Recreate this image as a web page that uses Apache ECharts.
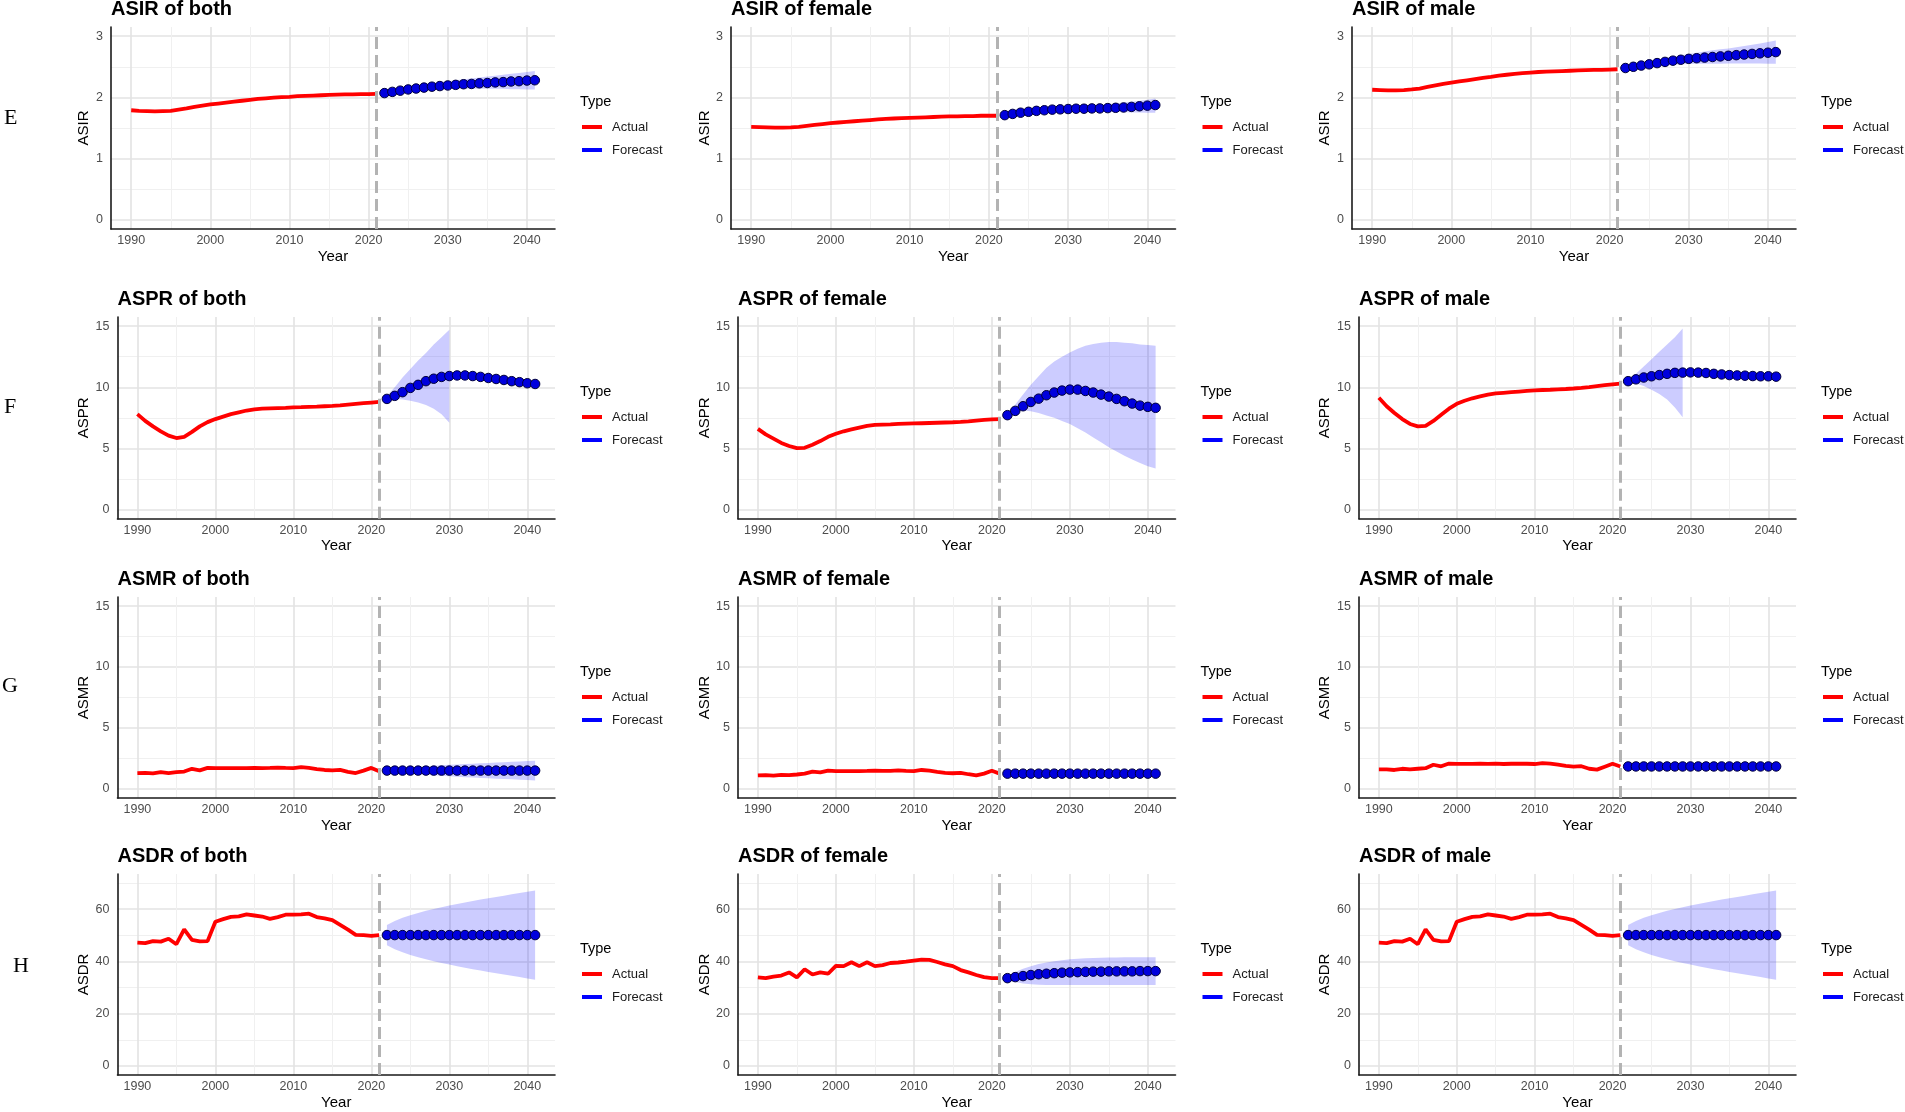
<!DOCTYPE html>
<html>
<head>
<meta charset="utf-8">
<title>ASIR / ASPR / ASMR / ASDR forecasts</title>
<script src="https://cdn.jsdelivr.net/npm/echarts@6/dist/echarts.min.js"></script>
<style>
html, body { margin: 0; padding: 0; background: #fff; }
#main { width: 1905px; height: 1112px; }
</style>
</head>
<body>
<div id="main"></div>
<script>
// years
var years = [1990, 1991, 1992, 1993, 1994, 1995, 1996, 1997, 1998, 1999, 2000, 2001, 2002, 2003, 2004, 2005,
    2006, 2007, 2008, 2009, 2010, 2011, 2012, 2013, 2014, 2015, 2016, 2017, 2018, 2019, 2020, 2021];
var forecastYears = [2022, 2023, 2024, 2025, 2026, 2027, 2028, 2029, 2030, 2031, 2032, 2033, 2034, 2035,
    2036, 2037, 2038, 2039, 2040, 2041];

// tick labels
var xTicks = [1990, 2000, 2010, 2020, 2030, 2040];
var xMinor = [1995, 2005, 2015, 2025, 2035];
var asirTicks = [0, 1, 2, 3];
var asirMinor = [0.5, 1.5, 2.5];
var rateTicks = [0, 5, 10, 15];
var rateMinor = [2.5, 7.5, 12.5];
var asdrTicks = [0, 20, 40, 60];
var asdrMinor = [10, 30, 50, 70];

// ASIR
var asirBothActual = [1.79, 1.78, 1.775, 1.77, 1.775, 1.78, 1.80, 1.82, 1.845, 1.865, 1.885, 1.90, 1.915, 1.93, 1.945, 1.96,
    1.975, 1.985, 1.995, 2.005, 2.01, 2.02, 2.025, 2.03, 2.035, 2.04, 2.045, 2.048, 2.05, 2.052, 2.054, 2.056];
var asirBothForecast = [2.07, 2.09, 2.11, 2.13, 2.145, 2.16, 2.175, 2.185, 2.195, 2.205, 2.215, 2.22, 2.23, 2.235,
    2.245, 2.25, 2.26, 2.265, 2.275, 2.28];
var asirBothUpper = [2.08, 2.11, 2.14, 2.17, 2.19, 2.21, 2.23, 2.25, 2.265, 2.28, 2.295, 2.31, 2.325, 2.34,
    2.355, 2.37, 2.385, 2.40, 2.415, 2.43];
var asirBothLower = [2.06, 2.075, 2.09, 2.10, 2.11, 2.12, 2.125, 2.13, 2.135, 2.14, 2.14, 2.14, 2.14, 2.14,
    2.14, 2.14, 2.135, 2.135, 2.13, 2.13];

var asirFemaleActual = [1.52, 1.515, 1.51, 1.505, 1.505, 1.51, 1.52, 1.535, 1.55, 1.565, 1.58, 1.59, 1.60, 1.61, 1.62, 1.63,
    1.64, 1.65, 1.655, 1.66, 1.665, 1.67, 1.675, 1.68, 1.685, 1.69, 1.69, 1.695, 1.695, 1.70, 1.70, 1.70];
var asirFemaleForecast = [1.71, 1.73, 1.75, 1.765, 1.78, 1.79, 1.80, 1.805, 1.81, 1.815, 1.815, 1.82, 1.82, 1.825,
    1.83, 1.835, 1.845, 1.855, 1.865, 1.875];
var asirFemaleUpper = [1.72, 1.745, 1.77, 1.79, 1.805, 1.82, 1.83, 1.84, 1.85, 1.86, 1.865, 1.875, 1.88, 1.89,
    1.90, 1.915, 1.93, 1.945, 1.96, 1.98];
var asirFemaleLower = [1.70, 1.715, 1.73, 1.74, 1.75, 1.76, 1.765, 1.77, 1.77, 1.77, 1.77, 1.765, 1.765, 1.76,
    1.76, 1.76, 1.755, 1.755, 1.75, 1.75];

var asirMaleActual = [2.125, 2.12, 2.115, 2.115, 2.12, 2.13, 2.145, 2.17, 2.195, 2.22, 2.24, 2.26, 2.28, 2.30, 2.32, 2.335,
    2.355, 2.37, 2.385, 2.395, 2.405, 2.415, 2.42, 2.425, 2.43, 2.435, 2.44, 2.445, 2.45, 2.45, 2.455, 2.46];
var asirMaleForecast = [2.48, 2.50, 2.52, 2.54, 2.56, 2.58, 2.60, 2.615, 2.63, 2.64, 2.65, 2.66, 2.67, 2.68,
    2.69, 2.70, 2.71, 2.72, 2.73, 2.74];
var asirMaleUpper = [2.49, 2.52, 2.55, 2.58, 2.61, 2.64, 2.665, 2.69, 2.71, 2.73, 2.75, 2.77, 2.785, 2.80,
    2.82, 2.84, 2.86, 2.88, 2.905, 2.93];
var asirMaleLower = [2.47, 2.485, 2.50, 2.51, 2.52, 2.53, 2.535, 2.54, 2.545, 2.55, 2.55, 2.55, 2.55, 2.555,
    2.555, 2.555, 2.555, 2.555, 2.55, 2.55];

// ASPR
var asprBothActual = [7.8, 7.25, 6.8, 6.4, 6.05, 5.85, 5.95, 6.35, 6.8, 7.15, 7.4, 7.6, 7.8, 7.95, 8.1, 8.2,
    8.25, 8.28, 8.3, 8.32, 8.35, 8.37, 8.4, 8.42, 8.45, 8.48, 8.52, 8.58, 8.64, 8.7, 8.75, 8.8];
var asprBothForecast = [9.05, 9.3, 9.6, 9.95, 10.2, 10.5, 10.7, 10.85, 10.92, 10.97, 10.97, 10.92, 10.85, 10.76,
    10.68, 10.6, 10.5, 10.42, 10.33, 10.27];
var asprBothUpper = [9.3, 10.0, 10.8, 11.5, 12.2, 12.8, 13.5, 14.1, 14.7];
var asprBothLower = [9.05, 9.05, 9.0, 8.9, 8.75, 8.55, 8.25, 7.8, 7.1];

var asprFemaleActual = [6.6, 6.15, 5.8, 5.45, 5.2, 5.02, 5.05, 5.3, 5.6, 5.95, 6.2, 6.4, 6.55, 6.7, 6.85, 6.92,
    6.95, 6.97, 7.0, 7.02, 7.04, 7.06, 7.08, 7.1, 7.12, 7.14, 7.17, 7.22, 7.28, 7.33, 7.37, 7.4];
var asprFemaleForecast = [7.72, 8.07, 8.45, 8.8, 9.07, 9.35, 9.57, 9.73, 9.81, 9.81, 9.7, 9.57, 9.4, 9.24,
    9.05, 8.86, 8.67, 8.5, 8.4, 8.32];
var asprFemaleUpper = [7.9, 8.6, 9.4, 10.2, 10.9, 11.6, 12.1, 12.5, 12.85, 13.15, 13.4, 13.55, 13.65, 13.7,
    13.7, 13.65, 13.6, 13.5, 13.45, 13.4];
var asprFemaleLower = [7.6, 7.95, 8.1, 8.05, 7.9, 7.7, 7.5, 7.25, 7.0, 6.65, 6.3, 5.9, 5.5, 5.1,
    4.75, 4.4, 4.1, 3.8, 3.55, 3.35];

var asprMaleActual = [9.15, 8.45, 7.9, 7.4, 7.0, 6.8, 6.85, 7.25, 7.75, 8.25, 8.65, 8.9, 9.1, 9.25, 9.4, 9.5,
    9.55, 9.6, 9.65, 9.7, 9.75, 9.78, 9.8, 9.83, 9.86, 9.9, 9.95, 10.02, 10.1, 10.17, 10.24, 10.3];
var asprMaleForecast = [10.5, 10.65, 10.8, 10.9, 11.0, 11.1, 11.18, 11.2, 11.22, 11.2, 11.17, 11.1, 11.05, 11.0,
    10.97, 10.95, 10.92, 10.9, 10.9, 10.87];
var asprMaleUpper = [10.6, 11.1, 11.7, 12.3, 12.9, 13.5, 14.1, 14.8];
var asprMaleLower = [10.4, 10.3, 10.1, 9.8, 9.45, 9.0, 8.35, 7.55];

// ASMR
var asmrBothActual = [1.3, 1.32, 1.27, 1.37, 1.3, 1.38, 1.42, 1.65, 1.52, 1.72, 1.7, 1.7, 1.7, 1.71, 1.71, 1.73,
    1.7, 1.72, 1.75, 1.72, 1.7, 1.78, 1.72, 1.62, 1.55, 1.52, 1.56, 1.4, 1.3, 1.5, 1.72, 1.45];
var asmrBothForecast = [1.5, 1.5, 1.5, 1.5, 1.5, 1.5, 1.5, 1.5, 1.5, 1.5, 1.5, 1.5, 1.5, 1.5,
    1.5, 1.5, 1.5, 1.5, 1.5, 1.5];
var asmrBothUpper = [1.6, 1.66, 1.72, 1.77, 1.81, 1.85, 1.89, 1.93, 1.97, 2.0, 2.04, 2.07, 2.1, 2.13,
    2.16, 2.19, 2.22, 2.25, 2.28, 2.31];
var asmrBothLower = [1.4, 1.34, 1.28, 1.23, 1.19, 1.15, 1.11, 1.07, 1.03, 1.0, 0.96, 0.93, 0.9, 0.87,
    0.84, 0.81, 0.78, 0.75, 0.72, 0.69];

var asmrFemaleActual = [1.1, 1.12, 1.08, 1.15, 1.12, 1.18, 1.25, 1.42, 1.35, 1.5, 1.45, 1.45, 1.45, 1.45, 1.47, 1.5,
    1.47, 1.48, 1.52, 1.48, 1.45, 1.55, 1.5, 1.4, 1.32, 1.28, 1.32, 1.2, 1.1, 1.25, 1.48, 1.25];
var asmrFemaleForecast = [1.25, 1.25, 1.25, 1.25, 1.25, 1.25, 1.25, 1.25, 1.25, 1.25, 1.25, 1.25, 1.25, 1.25,
    1.25, 1.25, 1.25, 1.25, 1.25, 1.25];
var asmrFemaleUpper = [];
var asmrFemaleLower = [];

var asmrMaleActual = [1.6, 1.6, 1.55, 1.65, 1.6, 1.65, 1.7, 1.98, 1.85, 2.08, 2.05, 2.05, 2.05, 2.06, 2.05, 2.07,
    2.04, 2.06, 2.08, 2.06, 2.04, 2.12, 2.08, 1.98, 1.88, 1.83, 1.86, 1.65, 1.58, 1.82, 2.06, 1.84];
var asmrMaleForecast = [1.84, 1.84, 1.84, 1.84, 1.84, 1.84, 1.84, 1.84, 1.84, 1.84, 1.84, 1.84, 1.84, 1.84,
    1.84, 1.84, 1.84, 1.84, 1.84, 1.84];
var asmrMaleUpper = [];
var asmrMaleLower = [];

// ASDR
var asdrBothActual = [47.2, 47.0, 47.8, 47.6, 48.7, 46.6, 52.3, 48.3, 47.7, 47.8, 55.2, 56.2, 57.1, 57.3, 58.0, 57.6,
    57.2, 56.3, 57.0, 57.9, 57.9, 58.0, 58.3, 57.0, 56.5, 55.8, 54.0, 52.2, 50.2, 50.1, 49.8, 50.1];
var asdrBothForecast = [50.1, 50.1, 50.1, 50.1, 50.1, 50.1, 50.1, 50.1, 50.1, 50.1, 50.1, 50.1, 50.1, 50.1,
    50.1, 50.1, 50.1, 50.1, 50.1, 50.1];
var asdrBothUpper = [54.0, 55.5, 56.7, 57.7, 58.6, 59.4, 60.1, 60.8, 61.4, 62.0, 62.6, 63.2, 63.7, 64.2,
    64.7, 65.2, 65.7, 66.2, 66.7, 67.2];
var asdrBothLower = [46.2, 44.7, 43.5, 42.5, 41.6, 40.8, 40.1, 39.4, 38.8, 38.2, 37.6, 37.0, 36.5, 36.0,
    35.5, 35.0, 34.5, 34.0, 33.5, 33.0];

var asdrFemaleActual = [33.9, 33.6, 34.2, 34.6, 35.8, 33.9, 37.0, 35.0, 35.8, 35.3, 38.3, 38.2, 39.7, 38.2, 39.7, 38.2,
    38.6, 39.4, 39.6, 39.9, 40.3, 40.7, 40.6, 39.8, 38.9, 38.2, 36.7, 35.8, 34.8, 34.0, 33.6, 33.6];
var asdrFemaleForecast = [33.6, 34.0, 34.4, 34.8, 35.1, 35.3, 35.5, 35.7, 35.8, 35.9, 36.0, 36.1, 36.1, 36.2,
    36.2, 36.2, 36.2, 36.3, 36.3, 36.3];
var asdrFemaleUpper = [34.5, 36.0, 37.2, 38.2, 39.0, 39.6, 40.1, 40.5, 40.8, 41.0, 41.2, 41.3, 41.4, 41.5,
    41.5, 41.6, 41.6, 41.6, 41.6, 41.6];
var asdrFemaleLower = [32.8, 32.1, 31.6, 31.3, 31.1, 31.0, 31.0, 31.0, 31.0, 31.0, 31.0, 31.0, 31.0, 31.0,
    31.0, 31.0, 31.0, 31.0, 31.0, 31.0];

var asdrMaleActual = [47.2, 47.0, 47.8, 47.6, 48.7, 46.6, 52.3, 48.3, 47.7, 47.8, 55.2, 56.2, 57.1, 57.3, 58.0, 57.6,
    57.2, 56.3, 57.0, 57.9, 57.9, 58.0, 58.3, 57.0, 56.5, 55.8, 54.0, 52.2, 50.2, 50.1, 49.8, 50.1];
var asdrMaleForecast = [50.1, 50.1, 50.1, 50.1, 50.1, 50.1, 50.1, 50.1, 50.1, 50.1, 50.1, 50.1, 50.1, 50.1,
    50.1, 50.1, 50.1, 50.1, 50.1, 50.1];
var asdrMaleUpper = [54.0, 55.5, 56.7, 57.7, 58.6, 59.4, 60.1, 60.8, 61.4, 62.0, 62.6, 63.2, 63.7, 64.2,
    64.7, 65.2, 65.7, 66.2, 66.7, 67.2];
var asdrMaleLower = [46.2, 44.7, 43.5, 42.5, 41.6, 40.8, 40.1, 39.4, 38.8, 38.2, 37.6, 37.0, 36.5, 36.0,
    35.5, 35.0, 34.5, 34.0, 33.5, 33.0];

var rowLetters = ['E', 'F', 'G', 'H'];

var panels = [
    { title: 'ASIR of both', yName: 'ASIR', row: 0, col: 0, ext: [-0.15, 3.15], ticks: asirTicks, minor: asirMinor,
      actual: asirBothActual, forecast: asirBothForecast, upper: asirBothUpper, lower: asirBothLower },
    { title: 'ASIR of female', yName: 'ASIR', row: 0, col: 1, ext: [-0.15, 3.15], ticks: asirTicks, minor: asirMinor,
      actual: asirFemaleActual, forecast: asirFemaleForecast, upper: asirFemaleUpper, lower: asirFemaleLower },
    { title: 'ASIR of male', yName: 'ASIR', row: 0, col: 2, ext: [-0.15, 3.15], ticks: asirTicks, minor: asirMinor,
      actual: asirMaleActual, forecast: asirMaleForecast, upper: asirMaleUpper, lower: asirMaleLower },
    { title: 'ASPR of both', yName: 'ASPR', row: 1, col: 0, ext: [-0.75, 15.75], ticks: rateTicks, minor: rateMinor,
      actual: asprBothActual, forecast: asprBothForecast, upper: asprBothUpper, lower: asprBothLower },
    { title: 'ASPR of female', yName: 'ASPR', row: 1, col: 1, ext: [-0.75, 15.75], ticks: rateTicks, minor: rateMinor,
      actual: asprFemaleActual, forecast: asprFemaleForecast, upper: asprFemaleUpper, lower: asprFemaleLower },
    { title: 'ASPR of male', yName: 'ASPR', row: 1, col: 2, ext: [-0.75, 15.75], ticks: rateTicks, minor: rateMinor,
      actual: asprMaleActual, forecast: asprMaleForecast, upper: asprMaleUpper, lower: asprMaleLower },
    { title: 'ASMR of both', yName: 'ASMR', row: 2, col: 0, ext: [-0.75, 15.75], ticks: rateTicks, minor: rateMinor,
      actual: asmrBothActual, forecast: asmrBothForecast, upper: asmrBothUpper, lower: asmrBothLower },
    { title: 'ASMR of female', yName: 'ASMR', row: 2, col: 1, ext: [-0.75, 15.75], ticks: rateTicks, minor: rateMinor,
      actual: asmrFemaleActual, forecast: asmrFemaleForecast, upper: asmrFemaleUpper, lower: asmrFemaleLower },
    { title: 'ASMR of male', yName: 'ASMR', row: 2, col: 2, ext: [-0.75, 15.75], ticks: rateTicks, minor: rateMinor,
      actual: asmrMaleActual, forecast: asmrMaleForecast, upper: asmrMaleUpper, lower: asmrMaleLower },
    { title: 'ASDR of both', yName: 'ASDR', row: 3, col: 0, ext: [-3.5, 73.5], ticks: asdrTicks, minor: asdrMinor,
      actual: asdrBothActual, forecast: asdrBothForecast, upper: asdrBothUpper, lower: asdrBothLower },
    { title: 'ASDR of female', yName: 'ASDR', row: 3, col: 1, ext: [-3.5, 73.5], ticks: asdrTicks, minor: asdrMinor,
      actual: asdrFemaleActual, forecast: asdrFemaleForecast, upper: asdrFemaleUpper, lower: asdrFemaleLower },
    { title: 'ASDR of male', yName: 'ASDR', row: 3, col: 2, ext: [-3.5, 73.5], ticks: asdrTicks, minor: asdrMinor,
      actual: asdrMaleActual, forecast: asdrMaleForecast, upper: asdrMaleUpper, lower: asdrMaleLower }
];

// layout (px)
var FONT = '"Liberation Sans", Arial, sans-serif';
var colLeftRow1 = [111, 731, 1352];
var colLeft = [117.5, 738, 1359];
var colRight = [555, 1175.5, 1796];
var rowTop = [27, 317, 597, 874];
var rowBottom = [229, 518.7, 798, 1075];
var yNameX = [84, 705, 1325];
var letterX = [4, 4, 2, 13];
var letterY = [118, 407, 686, 966];

var myChart = echarts.init(document.getElementById('main'));

var option = {
    animation: false,
    backgroundColor: '#ffffff',
    title: [],
    legend: [],
    grid: [],
    xAxis: [],
    yAxis: [],
    series: []
};

function plain(v) { return String(v); }

// ribbon between lower and upper, one polygon per panel
function bandRenderer(upper, lower) {
    return function (params, api) {
        if (params.dataIndex !== 0) return null;
        var pts = [];
        for (var i = 0; i < upper.length; i++) {
            pts.push(api.coord([forecastYears[i], upper[i]]));
        }
        for (var j = lower.length - 1; j >= 0; j--) {
            pts.push(api.coord([forecastYears[j], lower[j]]));
        }
        return {
            type: 'polygon',
            shape: { points: pts },
            style: { fill: 'rgba(0, 0, 255, 0.2)', stroke: 'none' }
        };
    };
}

rowLetters.forEach(function (t, r) {
    option.title.push({
        text: t, left: letterX[r], top: letterY[r] - 13, padding: 0,
        textStyle: { fontFamily: '"Liberation Serif", "Times New Roman", serif', fontSize: 22,
            fontWeight: 'normal', color: '#000', lineHeight: 26 }
    });
});

panels.forEach(function (p, k) {
    var left = p.row === 0 ? colLeftRow1[p.col] : colLeft[p.col];
    var top = rowTop[p.row];
    var bottom = rowBottom[p.row];
    var right = colRight[p.col];

    option.title.push({
        text: p.title, left: left, top: top - 29, padding: 0,
        textStyle: { fontFamily: FONT, fontSize: 20, fontWeight: 'bold', color: '#000', lineHeight: 22 }
    });
    option.title.push({
        text: 'Type', left: right + 25, top: top + 67, padding: 0,
        textStyle: { fontFamily: FONT, fontSize: 14.5, fontWeight: 'normal', color: '#000', lineHeight: 16 }
    });

    option.legend.push({
        orient: 'vertical', left: right + 27, top: top + 92, padding: 0,
        itemWidth: 20, itemHeight: 4, itemGap: 7, selectedMode: false,
        textStyle: { fontFamily: FONT, fontSize: 13, color: '#1a1a1a', lineHeight: 16, padding: [0, 0, 0, 5] },
        data: [
            { name: 'Actual', icon: 'rect', itemStyle: { color: '#ff0000', borderWidth: 0 } },
            { name: 'Forecast', icon: 'rect', itemStyle: { color: '#0000ff', borderWidth: 0 } }
        ]
    });

    option.grid.push({ left: left, top: top, width: right - left, height: bottom - top });

    var axisLine = { show: true, onZero: false, lineStyle: { color: '#1a1a1a', width: 1.6 } };
    var majorLine = { show: true, lineStyle: { color: '#e3e3e3', width: 1.6 } };
    var minorLine = { show: true, lineStyle: { color: '#f0f0f0', width: 1 } };
    var tickText = { fontFamily: FONT, fontSize: 12.5, color: '#4d4d4d' };

    option.xAxis.push({
        gridIndex: k, type: 'value', min: 1987.45, max: 2043.55,
        name: 'Year', nameLocation: 'middle', nameGap: 20,
        nameTextStyle: { fontFamily: FONT, fontSize: 15, color: '#000' },
        axisLine: axisLine,
        axisTick: { show: false, customValues: xTicks },
        axisLabel: Object.assign({ customValues: xTicks, margin: 5, formatter: plain }, tickText),
        splitLine: majorLine
    });
    option.xAxis.push({
        gridIndex: k, type: 'value', min: 1987.45, max: 2043.55,
        axisLine: { show: false }, axisTick: { show: false, customValues: xMinor },
        axisLabel: { show: false }, splitLine: minorLine
    });
    option.yAxis.push({
        gridIndex: k, type: 'value', min: p.ext[0], max: p.ext[1],
        name: p.yName, nameLocation: 'middle', nameGap: left - yNameX[p.col] - 7.5,
        nameTextStyle: { fontFamily: FONT, fontSize: 15, color: '#000' },
        axisLine: axisLine,
        axisTick: { show: false, customValues: p.ticks },
        axisLabel: Object.assign({ customValues: p.ticks, margin: 8, formatter: plain }, tickText),
        splitLine: majorLine
    });
    option.yAxis.push({
        gridIndex: k, type: 'value', min: p.ext[0], max: p.ext[1],
        axisLine: { show: false }, axisTick: { show: false, customValues: p.minor },
        axisLabel: { show: false }, splitLine: minorLine
    });

    var xi = 2 * k, yi = 2 * k;

    if (p.upper.length) {
        option.series.push({
            type: 'custom', name: 'band', xAxisIndex: xi, yAxisIndex: yi, silent: true, z: 1,
            clip: true,
            encode: { x: 0, y: [1, 2] },
            data: p.upper.map(function (v, i) { return [forecastYears[i], p.lower[i], v]; }),
            renderItem: bandRenderer(p.upper, p.lower)
        });
    }

    option.series.push({
        type: 'line', name: 'Actual', xAxisIndex: xi, yAxisIndex: yi,
        symbol: 'none', z: 3,
        lineStyle: { color: '#ff0000', width: 3.8 },
        itemStyle: { color: '#ff0000' },
        data: p.actual.map(function (v, i) { return [years[i], v]; }),
        markLine: {
            silent: true, symbol: ['none', 'none'], label: { show: false },
            lineStyle: { color: '#b3b3b3', width: 3, type: [12, 6] },
            emphasis: { disabled: true },
            data: [{ xAxis: 2021 }]
        }
    });

    option.series.push({
        type: 'line', name: 'Forecast', xAxisIndex: xi, yAxisIndex: yi,
        symbol: 'circle', symbolSize: 9.5, showSymbol: true, z: 4,
        lineStyle: { color: '#0000ff', width: 2.5 },
        itemStyle: { color: '#0000dd', borderColor: '#00003a', borderWidth: 1 },
        data: p.forecast.map(function (v, i) { return [forecastYears[i], v]; })
    });
});

myChart.setOption(option);
</script>
</body>
</html>
